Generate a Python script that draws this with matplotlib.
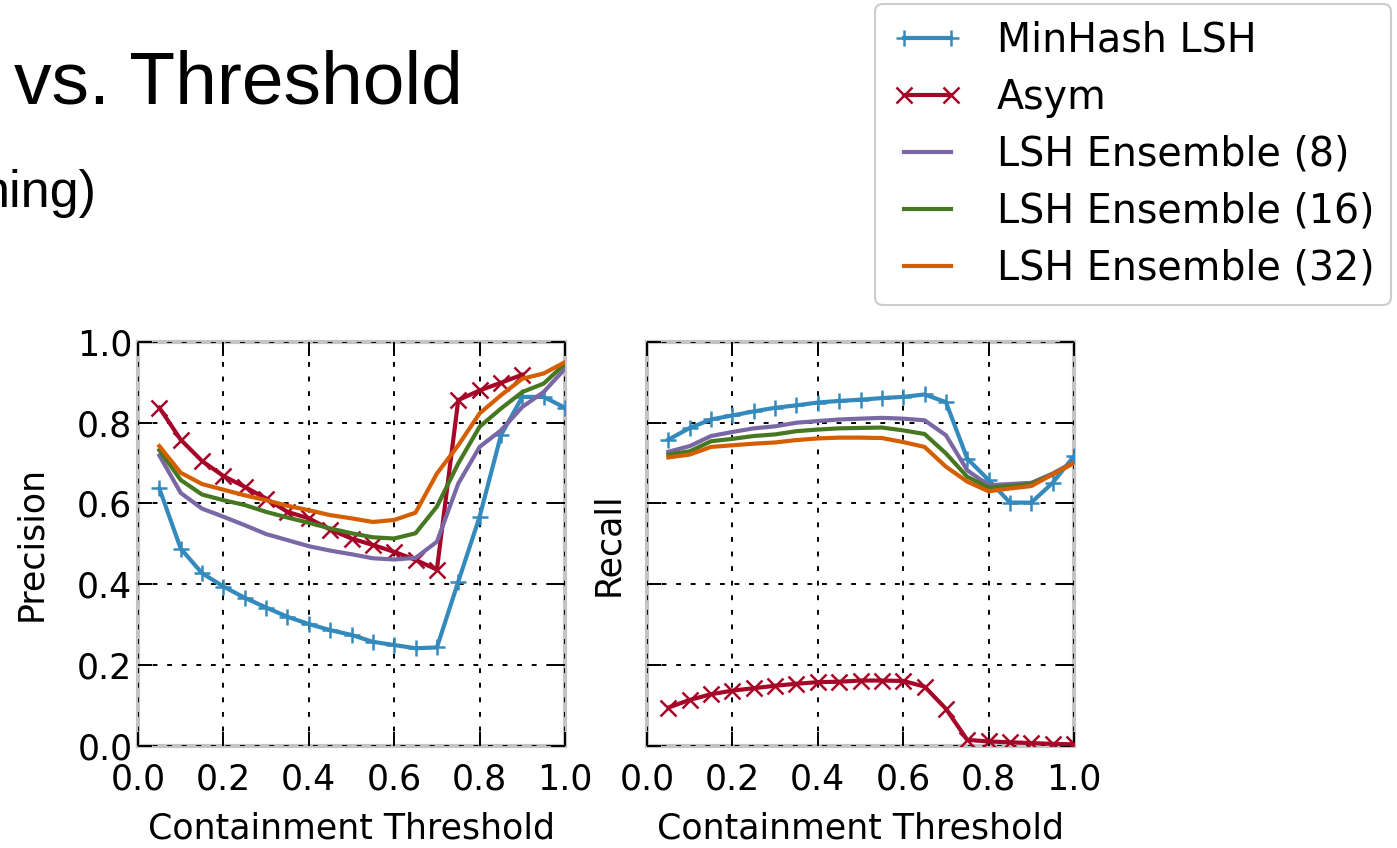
import matplotlib
matplotlib.use("Agg")
import matplotlib.pyplot as plt

# seuils de containment (20 points)
seuils = [0.05, 0.10, 0.15, 0.20, 0.25, 0.30, 0.35, 0.40, 0.45, 0.50,
          0.55, 0.60, 0.65, 0.70, 0.75, 0.80, 0.85, 0.90, 0.95, 1.00]

noms = ["MinHash LSH", "Asym", "LSH Ensemble (8)", "LSH Ensemble (16)", "LSH Ensemble (32)"]

# precision
prec_minhash = [0.637, 0.488, 0.427, 0.394, 0.366, 0.342, 0.319, 0.301, 0.286, 0.274,
                0.257, 0.249, 0.241, 0.243, 0.406, 0.567, 0.769, 0.864, 0.864, 0.837]
prec_asym = [0.837, 0.758, 0.705, 0.668, 0.641, 0.612, 0.579, 0.563, 0.535, 0.513,
             0.497, 0.480, 0.460, 0.436, 0.856, 0.880, 0.899, 0.919]
prec_ens8 = [0.719, 0.626, 0.587, 0.567, 0.546, 0.524, 0.509, 0.494, 0.483, 0.474,
             0.464, 0.461, 0.465, 0.505, 0.649, 0.740, 0.781, 0.839, 0.876, 0.934]
prec_ens16 = [0.732, 0.658, 0.622, 0.608, 0.596, 0.579, 0.565, 0.552, 0.538, 0.526,
              0.516, 0.513, 0.526, 0.592, 0.699, 0.790, 0.835, 0.876, 0.897, 0.946]
prec_ens32 = [0.742, 0.676, 0.648, 0.634, 0.620, 0.608, 0.594, 0.583, 0.571, 0.563,
              0.554, 0.559, 0.577, 0.674, 0.744, 0.823, 0.868, 0.909, 0.922, 0.950]

# recall
rec_minhash = [0.758, 0.787, 0.808, 0.818, 0.828, 0.837, 0.843, 0.850, 0.854, 0.857,
               0.861, 0.864, 0.870, 0.851, 0.711, 0.658, 0.602, 0.602, 0.651, 0.717]
rec_asym = [0.094, 0.113, 0.127, 0.136, 0.142, 0.148, 0.153, 0.157, 0.158, 0.161,
            0.161, 0.160, 0.146, 0.091, 0.014, 0.010, 0.008, 0.006, 0.004, 0.003]
rec_ens8 = [0.728, 0.742, 0.767, 0.777, 0.786, 0.791, 0.800, 0.804, 0.808, 0.810,
            0.812, 0.810, 0.806, 0.769, 0.682, 0.645, 0.648, 0.651, 0.674, 0.703]
rec_ens16 = [0.721, 0.729, 0.754, 0.760, 0.767, 0.771, 0.779, 0.783, 0.786, 0.787,
             0.788, 0.781, 0.772, 0.724, 0.666, 0.639, 0.643, 0.648, 0.672, 0.701]
rec_ens32 = [0.714, 0.721, 0.740, 0.744, 0.748, 0.751, 0.757, 0.761, 0.763, 0.763,
             0.762, 0.752, 0.740, 0.691, 0.654, 0.630, 0.637, 0.643, 0.672, 0.700]

couleurs = ["#348ABD", "#A60628", "#7A68A6", "#467821", "#D55E00"]
marqueurs = ["+", "x", None, None, None]

W, H = 1397, 848
fig = plt.figure(figsize=(W / 100, H / 100), dpi=100)

# textes du titre de la diapo (coupes a gauche)
fig.text(14 / W, 1 - 104 / H, "vs. Threshold", fontsize=54,
         family="Liberation Sans", va="baseline", ha="left")
fig.text(-19 / W, 1 - 207 / H, "ning)", fontsize=37.5,
         family="Liberation Sans", va="baseline", ha="left")

ax1 = fig.add_axes([138 / W, 102.5 / H, 427 / W, 403.5 / H])
ax2 = fig.add_axes([647 / W, 102.5 / H, 427 / W, 403.5 / H])


def dessine(ax, series):
    lignes = []
    for vals, c, m, nom in zip(series, couleurs, marqueurs, noms):
        l, = ax.plot(seuils[:len(vals)], vals, color=c, marker=m, lw=3,
                     ms=11, mew=1.8, label=nom)
        lignes.append(l)
    ax.set_xlim(0, 1)
    ax.set_ylim(0, 1)
    ax.set_xticks([0.0, 0.2, 0.4, 0.6, 0.8, 1.0])
    ax.set_yticks([0.0, 0.2, 0.4, 0.6, 0.8, 1.0])
    ax.grid(True, color="black", linestyle=(0, (2.5, 5)), linewidth=1.4)
    ax.tick_params(direction="in", length=10, width=1.4, top=True, right=True,
                   labelsize=25, colors="black")
    ax.tick_params(axis="x", pad=12)
    ax.tick_params(axis="y", pad=4)
    for s in ax.spines.values():
        s.set_color("#c4c4c4")
        s.set_linewidth(3)
        s.set_zorder(1)
    ax.set_xlabel("Containment Threshold", fontsize=25, labelpad=11)
    return lignes


lignes = dessine(ax1, [prec_minhash, prec_asym, prec_ens8, prec_ens16, prec_ens32])
dessine(ax2, [rec_minhash, rec_asym, rec_ens8, rec_ens16, rec_ens32])
ax1.set_ylabel("Precision", fontsize=25, labelpad=21)
ax2.set_ylabel("Recall", fontsize=25, labelpad=16)
ax2.tick_params(axis="y", labelleft=False)

leg = fig.legend(handles=lignes, loc="upper right",
                 bbox_to_anchor=(1391 / W, 1 - 4 / H), fontsize=28.5,
                 numpoints=2, handlelength=1.8, handletextpad=0.85,
                 labelspacing=0.43, borderpad=0.42, borderaxespad=0,
                 fancybox=True, framealpha=1)
leg.get_frame().set_edgecolor("#cccccc")
leg.get_frame().set_linewidth(1.5)

fig.savefig("out.png", dpi=100)
